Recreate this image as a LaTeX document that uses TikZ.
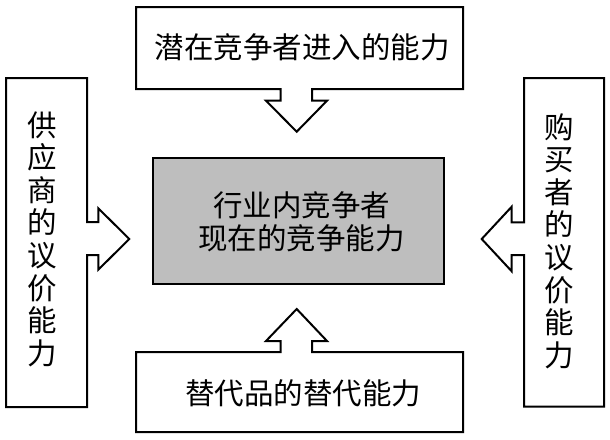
\documentclass[tikz,border=0pt]{standalone}
\usepackage{fontspec}
\newfontfamily\cjk{Noto Sans CJK SC}
\tikzset{
  callout/.style={draw=black, line width=2pt, fill=white, line join=miter},
  centerbox/.style={draw=black, line width=2pt, fill={rgb,255:red,190;green,190;blue,190}},
  lbl/.style={font=\cjk\fontsize{29.5}{33}\selectfont, inner sep=0pt, align=center, text=black},
  vlbl/.style={font=\cjk\fontsize{29.5}{32.6}\selectfont, inner sep=0pt, align=center, text=black}
}
\begin{document}
\begin{tikzpicture}[x=1pt,y=-1pt]
\useasboundingbox (0,0) rectangle (610,439);
% top callout
\draw[callout] (136,7) -- (463,7) -- (463,89) -- (312,89) -- (312,100.7) -- (327,100.7)
  -- (296.7,131.7) -- (266,100.7) -- (280.7,100.7) -- (280.7,89) -- (136,89) -- cycle;
% bottom callout
\draw[callout] (136,432) -- (463,432) -- (463,352) -- (312,352) -- (312,341) -- (327,341)
  -- (296.7,309) -- (266,341) -- (280.7,341) -- (280.7,352) -- (136,352) -- cycle;
% left callout
\draw[callout] (6,78) -- (87,78) -- (87,222) -- (98.3,222) -- (98.3,208.3) -- (129.3,239)
  -- (98.3,269.7) -- (98.3,255) -- (87,255) -- (87,407) -- (6,407) -- cycle;
% right callout
\draw[callout] (604,78) -- (524,78) -- (524,222.3) -- (511.7,222.3) -- (511.7,206.7)
  -- (481.7,239) -- (511.7,271.3) -- (511.7,255) -- (524,255) -- (524,406.5) -- (604,406.5) -- cycle;
% center box
\draw[centerbox] (152.7,158.3) rectangle (444.3,284);
% labels
\node[lbl] (top) at (302,47) {潜在竞争者进入的能力};
\node[lbl] (bottom) at (303,393) {替代品的替代能力};
\node[lbl] (center) at (301.5,221.5) {行业内竞争者\\现在的竞争能力};
\node[vlbl] (left) at (42.5,239) {供\\应\\商\\的\\议\\价\\能\\力};
\node[vlbl] (right) at (559.5,241) {购\\买\\者\\的\\议\\价\\能\\力};
\end{tikzpicture}
\end{document}
